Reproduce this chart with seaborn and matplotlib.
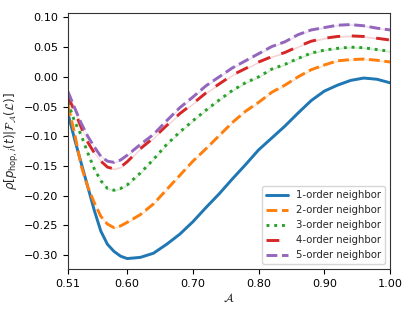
import numpy as np
import pandas as pd
import matplotlib
matplotlib.use("Agg")
import matplotlib.pyplot as plt
import seaborn as sns

x_vals = [0.51, 0.52, 0.53, 0.54, 0.55, 0.56, 0.57, 0.58, 0.59, 0.60,
          0.62, 0.64, 0.66, 0.68, 0.70, 0.72, 0.74, 0.76, 0.78, 0.80,
          0.82, 0.84, 0.86, 0.88, 0.90, 0.92, 0.94, 0.96, 0.98, 1.00]

order1 = [-0.062, -0.105, -0.145, -0.185, -0.225, -0.260, -0.282, -0.294, -0.302, -0.306,
          -0.304, -0.297, -0.282, -0.265, -0.244, -0.220, -0.197, -0.172, -0.148, -0.123,
          -0.103, -0.083, -0.061, -0.040, -0.024, -0.014, -0.006, -0.002, -0.004, -0.010]
order2 = [-0.048, -0.095, -0.150, -0.185, -0.212, -0.235, -0.248, -0.254, -0.251, -0.245,
          -0.232, -0.214, -0.190, -0.166, -0.142, -0.121, -0.099, -0.077, -0.058, -0.043,
          -0.026, -0.014, 0.000, 0.012, 0.020, 0.027, 0.029, 0.030, 0.028, 0.025]
order3 = [-0.043, -0.075, -0.098, -0.128, -0.155, -0.175, -0.188, -0.191, -0.188, -0.182,
          -0.162, -0.139, -0.114, -0.093, -0.074, -0.056, -0.039, -0.023, -0.010, 0.000,
          0.013, 0.021, 0.031, 0.040, 0.045, 0.048, 0.050, 0.049, 0.046, 0.043]
order4 = [-0.033, -0.058, -0.085, -0.110, -0.128, -0.142, -0.152, -0.155, -0.152, -0.143,
          -0.121, -0.103, -0.082, -0.062, -0.045, -0.027, -0.012, 0.003, 0.014, 0.025,
          0.034, 0.041, 0.051, 0.060, 0.065, 0.068, 0.069, 0.068, 0.065, 0.062]
order5 = [-0.025, -0.052, -0.078, -0.100, -0.118, -0.134, -0.142, -0.144, -0.140, -0.132,
          -0.114, -0.097, -0.074, -0.052, -0.034, -0.015, 0.000, 0.015, 0.027, 0.039,
          0.051, 0.059, 0.071, 0.079, 0.083, 0.087, 0.088, 0.086, 0.082, 0.079]

labels = ["1-order neighbor", "2-order neighbor", "3-order neighbor",
          "4-order neighbor", "5-order neighbor"]
series = [order1, order2, order3, order4, order5]

xticks = [0.51, 0.60, 0.70, 0.80, 0.90, 1.00]
yticks = [-0.30, -0.25, -0.20, -0.15, -0.10, -0.05, 0.00, 0.05, 0.10]

df = pd.concat([pd.DataFrame({"A": x_vals, "rho": s, "order": lab})
                for s, lab in zip(series, labels)], ignore_index=True)

colors = ["#1f77b4", "#ff7f0e", "#2ca02c", "#d62728", "#9467bd"]
dashes = {labels[0]: "", labels[1]: (3.7, 1.6), labels[2]: (1, 1.65),
          labels[3]: (4.4, 4.0), labels[4]: (3.7, 1.6)}

sns.set_style("ticks")
plt.rcParams["font.family"] = ["DejaVu Sans"]
plt.rcParams["mathtext.fontset"] = "dejavusans"

fig = plt.figure(figsize=(4.15, 3.12), dpi=100)
ax = fig.add_axes([0.1639, 0.1378, 0.7759, 0.8205])

sns.lineplot(data=df, x="A", y="rho", hue="order", style="order",
             palette=colors, dashes=dashes, linewidth=2.1, ax=ax)

for s, c in zip(series, colors):
    s = np.asarray(s)
    ax.fill_between(x_vals, s - 0.0015, s + 0.0015, color=c, alpha=0.2, lw=0)

ax.set_xlim(0.51, 1.0)
ax.set_ylim(-0.3236, 0.1075)
ax.set_xticks(xticks)
ax.set_xticklabels([f"{t:.2f}" for t in xticks])
ax.set_yticks(yticks)
ax.set_yticklabels([f"{t:.2f}".replace("-", "\u2212") for t in yticks])
ax.tick_params(labelsize=8.1, length=3.5, width=0.8, colors="black")
for sp in ax.spines.values():
    sp.set_linewidth(0.8)
    sp.set_color("#333333")
    sp.set_visible(True)

ax.set_xlabel(r"$\mathcal{A}$", fontsize=8.5, labelpad=2)
ax.set_ylabel(r"$\rho[p_{\mathrm{hop},i}(t)|\mathcal{F}_{\mathcal{A}}(\mathcal{L})]$",
              fontsize=8.5, labelpad=2)

handles, labs = ax.get_legend_handles_labels()
ax.legend(handles, labs, loc="lower right", fontsize=7.25, handlelength=2.2,
          frameon=True, borderaxespad=0.45)

fig.savefig("out.png", dpi=100)
